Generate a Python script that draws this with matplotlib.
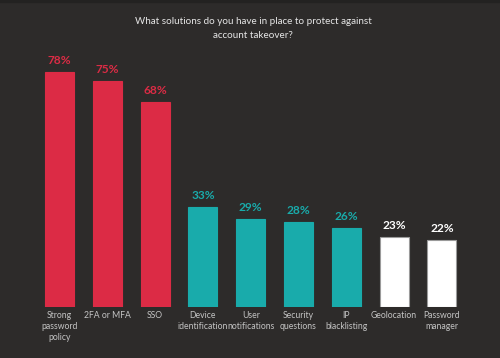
import matplotlib
matplotlib.use("Agg")
import matplotlib.pyplot as plt

categories = ["Strong\npassword\npolicy", "2FA or MFA", "SSO", "Device\nidentification",
              "User\nnotifications", "Security\nquestions", "IP\nblacklisting",
              "Geolocation", "Password\nmanager"]
values = [78, 75, 68, 33, 29, 28, 26, 23, 22]
groups = ["red", "red", "red", "teal", "teal", "teal", "teal", "white", "white"]

BG = "#2d2b2a"
COLORS = {"red": "#dc2b45", "teal": "#19abab", "white": "#ffffff"}
EDGES = {"red": "#dc2b45", "teal": "#19abab", "white": "#9a9a9a"}

plt.rcParams["font.family"] = ["Lato", "DejaVu Sans"]

fig = plt.figure(figsize=(5.0, 3.58), dpi=100, facecolor=BG)
# axes placed so that y=0 sits at the bar baseline
ax = fig.add_axes([0, 51.3 / 358, 1, 301 / 358])
ax.set_facecolor(BG)
ax.set_ylim(0, 100)
step = 47.8
ax.set_xlim(-59.5 / step, (500 - 59.5) / step)

xs = list(range(len(values)))
ax.bar(xs, values, width=29 / step,
       color=[COLORS[g] for g in groups],
       edgecolor=[EDGES[g] for g in groups], linewidth=0.8)

for x, v, g in zip(xs, values, groups):
    ax.text(x, v + 2.0, f"{v}%", ha="center", va="bottom",
            color=COLORS[g], fontsize=8.6, fontweight="bold")

for x, c in zip(xs, categories):
    ax.text(x, -1.5, c, ha="center", va="top", color="#c4c4c4",
            fontsize=6.2, linespacing=1.25)

for s in ax.spines.values():
    s.set_visible(False)
ax.set_xticks([])
ax.set_yticks([])

fig.text(253 / 500, 1 - 28.5 / 358, "What solutions do you have in place to protect against\naccount takeover?",
         ha="center", va="center", color="#e6e6e6", fontsize=7.1, linespacing=1.7)

# thin darker strip along the top edge
fig.add_artist(plt.Rectangle((0, 1 - 2 / 358), 1, 2 / 358, transform=fig.transFigure,
                             color="#232221", zorder=0))

fig.savefig("out.png", dpi=100, facecolor=BG)
